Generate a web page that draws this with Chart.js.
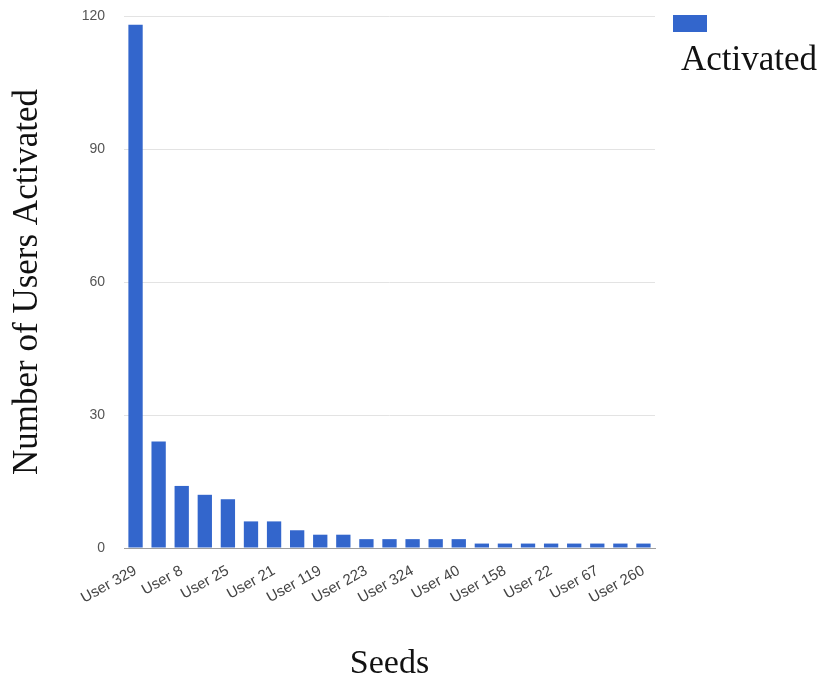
<!DOCTYPE html>
<html>
<head>
<meta charset="utf-8">
<script src="https://cdn.jsdelivr.net/npm/chart.js@4"></script>
<style>
  html, body { margin: 0; padding: 0; background: #fff; }
  #wrap { width: 825px; height: 681px; position: relative; }
</style>
</head>
<body>
<div id="wrap"><canvas id="chart"></canvas></div>
<script>
// seeds, only every other name is printed on the axis in the picture
var seeds = ['User 329', '', 'User 8', '', 'User 25', '', 'User 21', '', 'User 119', '', 'User 223', '',
    'User 324', '', 'User 40', '', 'User 158', '', 'User 22', '', 'User 67', '', 'User 260'];
var activated = [118, 24, 14, 12, 11, 6, 6, 4, 3, 3, 2, 2, 2, 2, 2, 1, 1, 1, 1, 1, 1, 1, 1];
var yTicks = [0, 30, 60, 90, 120];

const serif = '"Liberation Serif", "Times New Roman", serif';
const sans = '"Liberation Sans", Arial, sans-serif';

// legend sits top right with the label under the swatch
const sideLegend = {
    id: 'sideLegend',
    afterDraw(chart) {
        const c = chart.ctx;
        const ds = chart.data.datasets[0];
        c.save();
        c.fillStyle = ds.backgroundColor;
        c.fillRect(673, 15, 34, 17);
        c.fillStyle = '#111';
        c.font = '35px ' + serif;
        c.textBaseline = 'alphabetic';
        c.textAlign = 'left';
        c.fillText(ds.label, 681, 70);
        c.restore();
    }
};

new Chart(document.getElementById('chart'), {
    type: 'bar',
    data: {
        labels: seeds,
        datasets: [{
            label: 'Activated',
            data: activated,
            backgroundColor: '#3366cc',
            barPercentage: 0.62,
            categoryPercentage: 1.0
        }]
    },
    options: {
        responsive: true,
        maintainAspectRatio: false,
        animation: false,
        layout: { padding: { top: 16, right: 170, bottom: 0, left: 7 } },
        plugins: {
            legend: { display: false },
            tooltip: { enabled: false }
        },
        scales: {
            x: {
                grid: { display: false, drawTicks: false },
                border: { color: '#9e9e9e', width: 1 },
                ticks: {
                    autoSkip: false,
                    minRotation: 29,
                    maxRotation: 29,
                    padding: 14,
                    color: '#444',
                    font: { family: sans, size: 15 }
                },
                title: {
                    display: true,
                    text: 'Seeds',
                    color: '#111',
                    font: { family: serif, size: 34, lineHeight: 1 },
                    padding: { top: 20, bottom: 0 }
                },
                afterFit(scale) { scale.height = 133; }
            },
            y: {
                min: 0,
                max: 120,
                afterBuildTicks(scale) { scale.ticks = yTicks.map(v => ({ value: v })); },
                // gap between labels and plot comes from an invisible tick mark
                grid: { color: '#e3e3e3', drawTicks: true, tickLength: 19, tickColor: 'rgba(0,0,0,0)' },
                border: { display: false },
                ticks: {
                    padding: 0,
                    color: '#555',
                    font: { family: sans, size: 14 }
                },
                title: {
                    display: true,
                    text: 'Number of Users Activated',
                    color: '#111',
                    font: { family: serif, size: 35 },
                    padding: { top: 0, bottom: 0 }
                },
                afterFit(scale) { scale.width = 117; }
            }
        }
    },
    plugins: [sideLegend]
});
</script>
</body>
</html>
